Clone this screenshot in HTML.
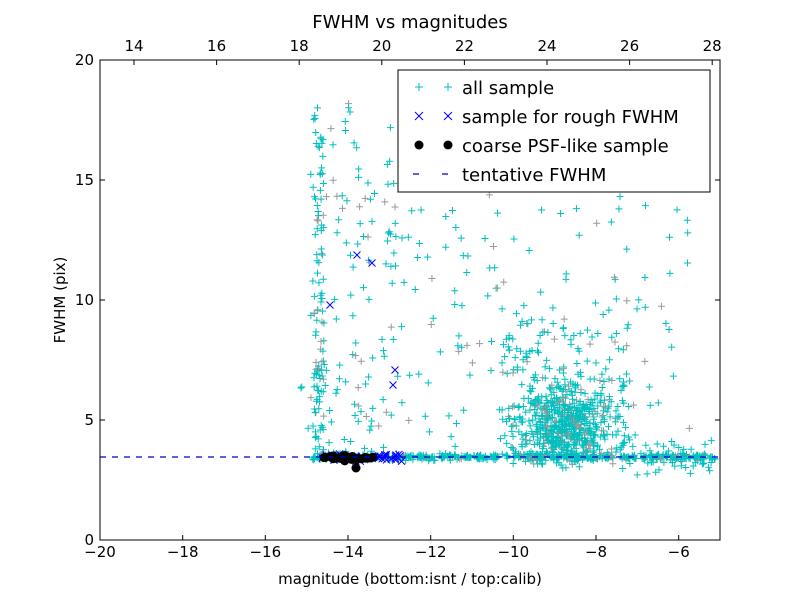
<!DOCTYPE html>
<html><head><meta charset="utf-8"><style>
body{margin:0;background:#fff}
svg{font-family:"DejaVu Sans","Liberation Sans",sans-serif}
</style></head><body>
<svg id="s" width="800" height="600" viewBox="0 0 800 600" xmlns="http://www.w3.org/2000/svg">
<rect width="800" height="600" fill="#fff"/>
<g id="pts"></g>
<line x1="100" y1="457" x2="720" y2="457" stroke="#0000cc" stroke-width="1.2" stroke-dasharray="6,6"/>
<rect x="100" y="60" width="620" height="480" fill="none" stroke="#000" stroke-width="1"/>
<g id="ticks" stroke="#000" stroke-width="1"></g>
<g font-size="15" text-anchor="middle" fill="#000">
<text x="100" y="557">−20</text><text x="182.7" y="557">−18</text><text x="265.3" y="557">−16</text><text x="348" y="557">−14</text><text x="430.7" y="557">−12</text><text x="513.3" y="557">−10</text><text x="596" y="557">−8</text><text x="678.7" y="557">−6</text>
<text x="134" y="51">14</text><text x="216.6" y="51">16</text><text x="299.2" y="51">18</text><text x="381.8" y="51">20</text><text x="464.4" y="51">22</text><text x="547" y="51">24</text><text x="629.6" y="51">26</text><text x="712.2" y="51">28</text>
</g>
<g font-size="15" text-anchor="end">
<text x="94" y="545">0</text><text x="94" y="425">5</text><text x="94" y="305">10</text><text x="94" y="185">15</text><text x="94" y="65">20</text>
</g>
<text x="410" y="584" font-size="15" text-anchor="middle">magnitude (bottom:isnt / top:calib)</text>
<text x="65" y="300" font-size="15" text-anchor="middle" transform="rotate(-90 65 300)">FWHM (pix)</text>
<text x="410" y="28" font-size="18" text-anchor="middle">FWHM vs magnitudes</text>
<rect x="398" y="70" width="312" height="122" fill="#fff" stroke="#000"/>
<g font-size="18">
<g stroke="#00bfbf" stroke-width="1"><path d="M415 87h8M419 83v8M444 87h8M448 83v8"/></g>
<text x="462" y="94">all sample</text>
<g stroke="#0000ff" stroke-width="1"><path d="M415 112l8 8M423 112l-8 8M444 112l8 8M452 112l-8 8"/></g>
<text x="462" y="123">sample for rough FWHM</text>
<circle cx="419" cy="145" r="4.5"/><circle cx="448" cy="145" r="4.5"/>
<text x="462" y="152">coarse PSF-like sample</text>
<path d="M413 174h12M442 174h12" stroke="#0000cc" stroke-width="1.2" stroke-dasharray="6,6"/>
<text x="462" y="181">tentative FWHM</text>
</g>
</svg>
<script>
var s=12345;function r(){s=(s*16807)%2147483647;return s/2147483647}
function g(){return (r()+r()+r()+r()-2)*1.2}
var h=[];
function plus(x,y,c){if(x<100||x>720||y<60||y>540)return;if(x>395&&x<712&&y>68&&y<194)return;h.push('<path d="M'+(x-3.5)+' '+y+'h7M'+x+' '+(y-3.5)+'v7" stroke="'+c+'" stroke-width="1" fill="none"/>')}
function cross(x,y){h.push('<path d="M'+(x-3.5)+' '+(y-3.5)+'l7 7M'+(x+3.5)+' '+(y-3.5)+'l-7 7" stroke="#0000ff" stroke-width="1" fill="none"/>')}
var C='#00bfbf',G='#999';
for(var i=0;i<450;i++){var x=312+r()*405;plus(x,457+g()*2.2,r()<0.12?G:C)}
for(i=0;i<500;i++){var x=565+g()*28,y=425+g()*28;if(y>468)y=468-r()*12;plus(x,y,r()<0.15?G:C)}
for(i=0;i<220;i++){plus(500+r()*130,300+Math.pow(r(),0.6)*165,r()<0.15?G:C)}
for(i=0;i<260;i++){plus(300+r()*390,100+Math.pow(r(),0.7)*360,r()<0.2?G:C)}
for(i=0;i<100;i++){plus(314+r()*10,90+Math.pow(r(),0.6)*370,r()<0.2?G:C)}
for(i=0;i<60;i++){plus(325+r()*80,150+r()*300,r()<0.2?G:C)}
for(i=0;i<50;i++){plus(620+r()*95,440+r()*35,C)}
for(i=0;i<35;i++)cross(320+r()*85,457+g()*2.5);
[[357,255],[372,263],[330,305],[395,370],[393,385]].forEach(function(p){cross(p[0],p[1])});
for(i=0;i<30;i++){h.push('<circle cx="'+(318+r()*55)+'" cy="'+(458+g()*2)+'" r="4.5"/>')}
h.push('<circle cx="356" cy="468" r="4.5"/>');
document.getElementById('pts').innerHTML=h.join('');
var t=[];
[100,182.7,265.3,348,430.7,513.3,596,678.7].forEach(function(x){t.push('<path d="M'+x+' 540v-5"/>')});
[134,216.6,299.2,381.8,464.4,547,629.6,712.2].forEach(function(x){t.push('<path d="M'+x+' 60v5"/>')});
[60,180,300,420,540].forEach(function(y){t.push('<path d="M100 '+y+'h5M720 '+y+'h-5"/>')});
document.getElementById('ticks').innerHTML=t.join('');
</script>
</body></html>
